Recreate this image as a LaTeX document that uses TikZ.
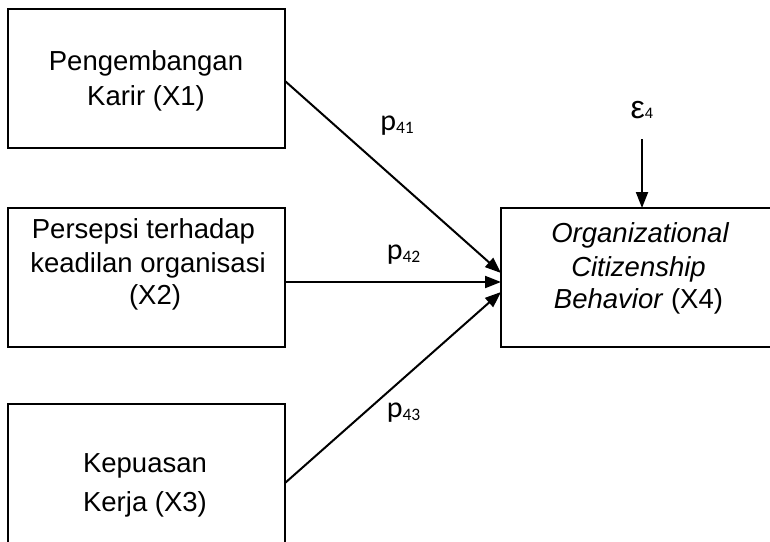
\documentclass[tikz,border=0pt]{standalone}
\usepackage{fontspec}
\setmainfont{Liberation Sans}
\newfontfamily\carlito{Carlito}
\usetikzlibrary{arrows.meta}
\tikzset{
  box/.style={draw, line width=2pt, rectangle, inner sep=0pt, outer sep=0pt},
  txt/.style={anchor=base, inner sep=0pt, font=\fontsize{27.5}{30}\selectfont},
  plbl/.style={anchor=base, inner sep=0pt},
  arr/.style={line width=2pt, -{Triangle[length=16pt,width=12pt]}}
}
\newcommand{\pl}[1]{{\carlito\fontsize{30}{32}\selectfont p\raisebox{-3pt}{\fontsize{17.5}{18}\selectfont #1}}}
\begin{document}
\begin{tikzpicture}[x=1pt,y=-1pt]
\clip (0,0) rectangle (770,541);
% boxes
\node[box, minimum width=277pt, minimum height=139pt] (b1) at (146.5,78.5) {};
\node[box, minimum width=277pt, minimum height=139pt] (b2) at (146.5,277.5) {};
\node[box, minimum width=277pt, minimum height=158pt] (b3) at (146.5,483) {};
\node[box, minimum width=276pt, minimum height=139pt] (b4) at (639,277.5) {};
% texts
\node[txt] (t11) at (146,70) {Pengembangan};
\node[txt] (t12) at (146,105) {Karir (X1)};
\node[txt] (t21) at (143.5,238) {Persepsi terhadap};
\node[txt] (t22) at (148,272) {keadilan organisasi};
\node[txt] (t23) at (155,304) {(X2)};
\node[txt] (t31) at (145,472) {Kepuasan};
\node[txt] (t32) at (145,511) {Kerja (X3)};
\node[txt] (t41) at (640,242) {\itshape Organizational};
\node[txt] (t42) at (638.5,276) {\itshape Citizenship};
\node[txt] (t43) at (638.5,308) {\textit{Behavior} (X4)};
% epsilon
\node[plbl] (eps) at (642,118) {\fontsize{32}{32}\selectfont ε\fontsize{15}{15}\selectfont 4};
% labels
\node[plbl] (p41) at (397,130) {\pl{41}};
\node[plbl] (p42) at (403.5,259) {\pl{42}};
\node[plbl] (p43) at (403.5,417) {\pl{43}};
% arrows
\draw[arr] ([yshift=-2.5pt]b1.east) -- ([yshift=4.5pt]b4.west);
\draw[arr] ([yshift=-4.5pt]b2.east) -- ([yshift=-4.5pt]b4.west);
\draw[arr] (b3.east) -- ([yshift=-14.5pt]b4.west);
\draw[arr] ([yshift=-21pt]eps.base) -- (eps.base |- b4.north);
\end{tikzpicture}
\end{document}
